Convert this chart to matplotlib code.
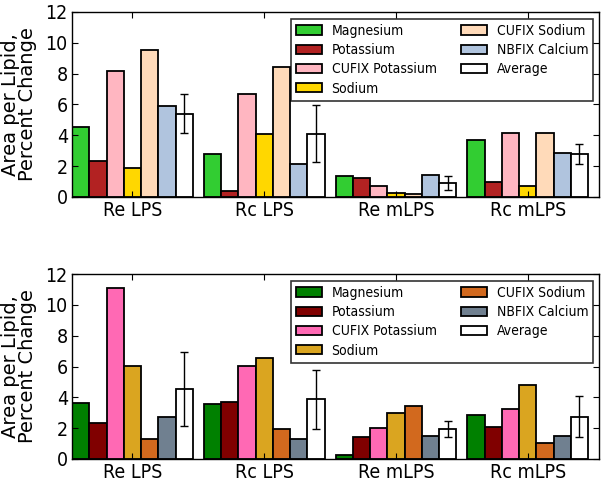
import numpy as np
import matplotlib
matplotlib.use("Agg")
import matplotlib.pyplot as plt

groups = ["Re LPS", "Rc LPS", "Re mLPS", "Rc mLPS"]
series = ["Magnesium", "Potassium", "CUFIX Potassium", "Sodium",
          "CUFIX Sodium", "NBFIX Calcium", "Average"]

top_magnesium = [4.52, 2.79, 1.36, 3.68]
top_potassium = [2.36, 0.41, 1.23, 1.00]
top_cufix_potassium = [8.20, 6.69, 0.74, 4.18]
top_sodium = [1.90, 4.09, 0.24, 0.71]
top_cufix_sodium = [9.52, 8.44, 0.22, 4.16]
top_nbfix_calcium = [5.89, 2.16, 1.45, 2.86]
top_average = [5.41, 4.11, 0.91, 2.77]
top_average_err = [1.26, 1.84, 0.47, 0.64]

bot_magnesium = [3.66, 3.59, 0.26, 2.88]
bot_potassium = [2.32, 3.72, 1.41, 2.06]
bot_cufix_potassium = [11.06, 6.06, 1.99, 3.25]
bot_sodium = [6.04, 6.56, 2.97, 4.78]
bot_cufix_sodium = [1.30, 1.97, 3.46, 1.06]
bot_nbfix_calcium = [2.73, 1.30, 1.52, 1.49]
bot_average = [4.52, 3.87, 1.95, 2.75]
bot_average_err = [2.40, 1.92, 0.54, 1.34]

top_colors = ["#32CD32", "#B22222", "#FFB6C1", "#FFD700", "#FFDAB9", "#B0C4DE", "#FFFFFF"]
bot_colors = ["#008000", "#800000", "#FF69B4", "#DAA520", "#D2691E", "#708090", "#FFFFFF"]

top_data = [top_magnesium, top_potassium, top_cufix_potassium, top_sodium,
            top_cufix_sodium, top_nbfix_calcium, top_average]
bot_data = [bot_magnesium, bot_potassium, bot_cufix_potassium, bot_sodium,
            bot_cufix_sodium, bot_nbfix_calcium, bot_average]

plt.rcParams['font.family'] = ['DejaVu Sans']
plt.rcParams['font.stretch'] = 'condensed'

fig = plt.figure(figsize=(6.02, 4.82), dpi=100)
ax1 = fig.add_axes([72/602, 1 - 197/482, (599-72)/602, (197-12)/482])
ax2 = fig.add_axes([72/602, 1 - 459/482, (599-72)/602, (459-274)/482])

w = 0.131
ind = np.arange(len(groups))

def draw(ax, data, err, colors, leg_top):
    for k, (vals, col, name) in enumerate(zip(data, colors, series)):
        x = ind - 0.5 + k * w
        kw = {}
        if name == "Average":
            kw = dict(yerr=err, error_kw=dict(ecolor="black", elinewidth=1.0,
                                              capsize=3.0, capthick=1.0))
        ax.bar(x, vals, w, align="edge", color=col, edgecolor="black",
               linewidth=1.3, label=name, **kw)
    ax.set_xlim(-0.5, 3.5)
    ax.set_ylim(0, 12)
    ax.set_yticks([0, 2, 4, 6, 8, 10, 12])
    ax.set_xticks(ind - 0.5 + 3.5 * w)
    ax.set_xticklabels(groups)
    ax.tick_params(axis="both", direction="in", top=True, right=True,
                   length=4, width=0.8)
    ax.tick_params(axis="y", labelsize=14, pad=3)
    ax.tick_params(axis="x", labelsize=14, pad=3)
    ax.set_ylabel("Area per Lipid,\nPercent Change", fontsize=14,
                  linespacing=0.9, fontstretch="normal")
    ax.yaxis.set_label_coords(-0.066, 0.5)
    for s in ax.spines.values():
        s.set_linewidth(1.0)
    leg = ax.legend(ncol=2, loc="upper right", fontsize=10, frameon=True,
                    fancybox=False, edgecolor="black", handlelength=1.87,
                    handleheight=0.65, handletextpad=0.72, columnspacing=1.73,
                    borderpad=0.35, labelspacing=0.38, borderaxespad=0,
                    bbox_to_anchor=(0.9886, leg_top))
    leg.get_frame().set_linewidth(1.2)

draw(ax1, top_data, top_average_err, top_colors, (197-19)/185)
draw(ax2, bot_data, bot_average_err, bot_colors, (459-281)/185)

fig.savefig("out.png", dpi=100)
